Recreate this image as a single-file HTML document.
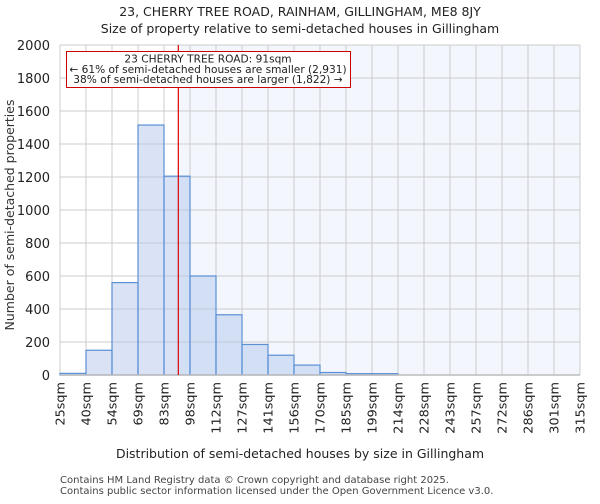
<!DOCTYPE html>
<html><head><meta charset="utf-8"><style>
body{margin:0;background:#fff;font-family:"DejaVu Sans","Liberation Sans",sans-serif}
</style></head><body>
<svg id="c" width="600" height="500" xmlns="http://www.w3.org/2000/svg" font-family="DejaVu Sans, Liberation Sans, sans-serif">
<text x="300" y="16" text-anchor="middle" font-size="12.5" fill="#222">23, CHERRY TREE ROAD, RAINHAM, GILLINGHAM, ME8 8JY</text>
<text x="300" y="33" text-anchor="middle" font-size="12.5" fill="#222">Size of property relative to semi-detached houses in Gillingham</text>
<g id="plot"></g>
<text transform="translate(14,215) rotate(-90)" text-anchor="middle" font-size="12.5" fill="#333">Number of semi-detached properties</text>
<text x="300" y="458" text-anchor="middle" font-size="12.5" fill="#222">Distribution of semi-detached houses by size in Gillingham</text>
<text x="60" y="483" font-size="10" fill="#444">Contains HM Land Registry data © Crown copyright and database right 2025.</text>
<text x="60" y="494" font-size="10" fill="#444">Contains public sector information licensed under the Open Government Licence v3.0.</text>
</svg>
<script>
const binLabels=["25sqm","40sqm","54sqm","69sqm","83sqm","98sqm","112sqm","127sqm","141sqm","156sqm","170sqm","185sqm","199sqm","214sqm","228sqm","243sqm","257sqm","272sqm","286sqm","301sqm","315sqm"];
const counts=[10,150,560,1515,1205,600,365,185,120,60,15,8,8,0,0,0,0,0,0,0];
const yTicks=[0,200,400,600,800,1000,1200,1400,1600,1800,2000];
const propertyBinPos=4.55;
const L=60,R=580,T=45,B=375,YMAX=2000;
const xs=i=>L+(R-L)*i/counts.length;
const ys=v=>B-(B-T)*v/YMAX;
const NS="http://www.w3.org/2000/svg";
const g=document.getElementById('plot');
function mk(t,a){const e=document.createElementNS(NS,t);for(const k in a)e.setAttribute(k,a[k]);g.appendChild(e);return e;}
const px=xs(propertyBinPos);
const sh=mk('rect',{x:px,y:T,width:R-px,height:B-T,fill:'#f3f6fd'});


yTicks.forEach(v=>{
 const l=mk('line',{x1:L,x2:R,y1:ys(v),y2:ys(v),stroke:'#ccc','stroke-width':1});
 
 
 const t=mk('text',{x:L-10,y:ys(v)+5,'text-anchor':'end','font-size':13,fill:'#222'});
 t.textContent=v;
 
 
});
binLabels.forEach((s,i)=>{
 const x=xs(i);
 const l=mk('line',{x1:x,x2:x,y1:T,y2:B,stroke:'#ccc','stroke-width':1});
 
 
 const t=mk('text',{transform:`translate(${x+4.5},${B+7}) rotate(-90)`,'text-anchor':'end','font-size':12.8,fill:'#222'});
 t.textContent=s;
 
 
});
counts.forEach((v,i)=>{
 if(v<=0)return;
 const r=mk('rect',{x:xs(i),y:ys(v),width:xs(i+1)-xs(i),height:B-ys(v),fill:'rgba(180,200,235,0.5)',stroke:'#5b8fd6','stroke-width':1.2});
 
 
});
const ax=mk('line',{x1:L,x2:R,y1:B,y2:B,stroke:'#bbb','stroke-width':1.5});


const ml=mk('line',{x1:px,x2:px,y1:T,y2:B,stroke:'#d00','stroke-width':1.2});


const box=mk('rect',{x:66.5,y:51.5,width:284,height:36,fill:'#fff',stroke:'#c00','stroke-width':1});


["23 CHERRY TREE ROAD: 91sqm","← 61% of semi-detached houses are smaller (2,931)","38% of semi-detached houses are larger (1,822) →"].forEach((s,i)=>{
 const t=mk('text',{x:208,y:62.5+i*10.3,'text-anchor':'middle','font-size':10.6,fill:'#222'});
 t.textContent=s;
 
 
});
</script>
</body></html>
